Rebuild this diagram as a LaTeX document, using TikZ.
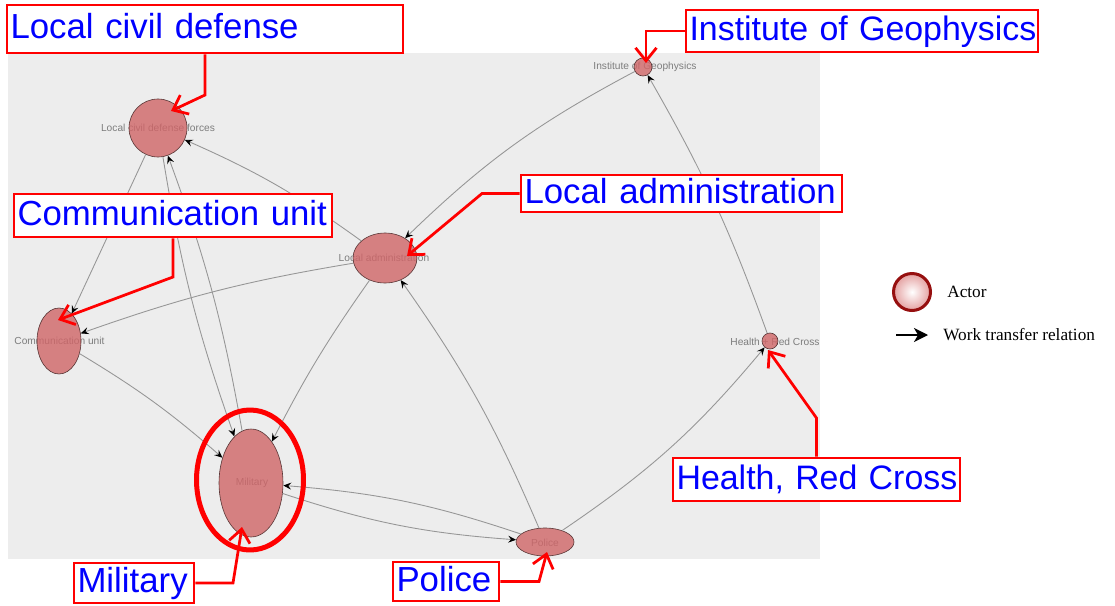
\documentclass[tikz,border=0pt]{standalone}
\usepackage{fontspec}
\setmainfont{Liberation Sans}
\newfontfamily\legendserif{Liberation Serif}
\usetikzlibrary{shapes.geometric,arrows.meta}
\definecolor{bggray}{RGB}{237,237,237}
\definecolor{nodefill}{RGB}{208,101,103}
\definecolor{nodeline}{RGB}{90,55,55}
\definecolor{edgegray}{RGB}{150,150,150}
\definecolor{labgray}{RGB}{125,125,125}
\definecolor{cred}{RGB}{255,0,0}
\definecolor{cblue}{RGB}{0,0,255}
\definecolor{ringred}{RGB}{150,15,15}
\definecolor{actorpink}{RGB}{228,160,160}
\newcommand\calloutfont{\fontsize{19.8}{23}\selectfont}
\newcommand\calloutfontnarrow{\fontsize{19.3}{23}\selectfont}
\newcommand\actorlabelfont{\fontsize{5.8}{7}\selectfont}
\newcommand\legendtextfont{\legendserif\fontsize{9.8}{12}\selectfont}
\begin{document}
\begin{tikzpicture}[x=0.02cm,y=0.02cm,
  actor/.style={ellipse, draw=nodeline, line width=0.35pt, fill=nodefill, fill opacity=0.8, text opacity=1, inner sep=0pt},
  actorlabel/.style={text=labgray, font=\actorlabelfont, inner sep=0pt},
  rel/.style={draw=edgegray, line width=0.5pt, -{Stealth[black,length=0.16cm,width=0.14cm,inset=0.06cm]}},
  cbox/.style={draw=cred, line width=0.055cm, fill=white, text=cblue, font=\calloutfont, inner ysep=0pt, inner xsep=0.07cm, align=left, text height=14.85pt, text depth=3.96pt},
  callout/.style={draw=cred, line width=0.055cm, -{Straight Barb[length=0.26cm,width=0.42cm]}},
]
\useasboundingbox (0,0) rectangle (1115,-605);
\fill[bggray] (8,-53) rectangle (820,-559);

% actor labels (drawn below the actors)
\node[actorlabel] (llcd) at (158,-128) {Local civil defense forces};
\node[actorlabel] (lla) at (384,-258) {Local administration};
\node[actorlabel] (lig) at (645,-67) {Institute of Geophysics};
\node[actorlabel] (lcu) at (59.5,-341) {Communication unit};
\node[actorlabel] (lm) at (252,-483) {Military};
\node[actorlabel] (lp) at (545,-543) {Police};
\node[actorlabel] (lh) at (775,-342) {Health + Red Cross};

% actors
\node[actor, minimum width=1.16cm, minimum height=1.16cm] (lcd) at (158,-128) {};
\node[actor, minimum width=1.28cm, minimum height=1.00cm] (la) at (385,-258) {};
\node[actor, minimum width=0.36cm, minimum height=0.36cm] (ig) at (643,-67) {};
\node[actor, minimum width=0.88cm, minimum height=1.32cm] (cu) at (59,-341) {};
\node[actor, minimum width=1.28cm, minimum height=2.16cm] (m) at (251,-483) {};
\node[actor, minimum width=1.16cm, minimum height=0.56cm] (p) at (545,-542) {};
\node[actor, minimum width=0.32cm, minimum height=0.32cm] (h) at (770,-341) {};

% work transfer relations
\draw[rel] (lcd) to (cu);
\draw[rel] (la) to[bend right=6] (lcd);
\draw[rel] (la) to[bend right=5] (cu);
\draw[rel] (la) to[bend right=4] (m);
\draw[rel] (ig) to[bend right=8] (la);
\draw[rel] (h) to[bend right=5] (ig);
\draw[rel] (p) to[bend right=8] (h);
\draw[rel] (p) to[bend right=6] (la);
\draw[rel] (p) to[bend right=7] (m);
\draw[rel] (m) to[bend right=7] (p);
\draw[rel] (lcd) to[bend right=5] (m);
\draw[rel] (m) to[bend right=5] (lcd);
\draw[rel] (cu) to[bend left=5] (m);

% callout boxes
\node[cbox, minimum width=7.92cm, text width=7.78cm, minimum height=0.96cm] (blcd) at (205,-29) {\mbox{Local civil defense}};
\node[cbox, font=\calloutfontnarrow, minimum width=7.04cm, text width=6.90cm, minimum height=0.84cm] (big) at (862,-31) {\mbox{Institute of Geophysics}};
\node[cbox, minimum width=6.42cm, text width=6.28cm, minimum height=0.74cm] (bla) at (681.5,-193.5) {\mbox{Local administration}};
\node[cbox, minimum width=6.36cm, text width=6.22cm, minimum height=0.86cm] (bcu) at (173,-215.5) {\mbox{Communication unit}};
\node[cbox, minimum width=2.40cm, text width=2.26cm, minimum height=0.80cm] (bm) at (134,-583) {\mbox{Military}};
\node[cbox, minimum width=2.12cm, text width=1.98cm, minimum height=0.78cm] (bp) at (446,-581.5) {\mbox{Police}};
\node[cbox, font=\calloutfontnarrow, minimum width=5.74cm, text width=5.60cm, minimum height=0.86cm] (bh) at (816.5,-479.5) {\mbox{Health, Red Cross}};

% highlight ring around Military
\node[ellipse, draw=cred, line width=0.1cm, minimum width=2.14cm, minimum height=2.8cm, inner sep=0pt] (mring) at (250,-480) {};

% callout arrows
\coordinate (klcd) at (205,-95);
\coordinate (tlcd) at (171,-111);
\coordinate (tig) at (646,-63);
\coordinate (kla) at (482,-193.5);
\coordinate (tla) at (407,-256);
\coordinate (kcu) at (173,-277);
\coordinate (tcu) at (58,-320);
\coordinate (km) at (233,-583);
\coordinate (tm) at (242,-527);
\coordinate (kp) at (539,-581.5);
\coordinate (tp) at (547,-552);
\coordinate (kh) at (816.5,-418);
\coordinate (th) at (768,-350);
\draw[callout] (blcd.south) -- (klcd) -- (tlcd);
\draw[callout] (big.west) -| (tig);
\draw[callout] (bla.west) -- (kla) -- (tla);
\draw[callout] (bcu.south) -- (kcu) -- (tcu);
\draw[callout] (bm.east) -- (km) -- (tm);
\draw[callout] (bp.east) -- (kp) -- (tp);
\draw[callout] (bh.north) -- (kh) -- (th);

% legend
\node[circle, draw=ringred, line width=0.06cm, minimum size=0.74cm, inner sep=0pt, inner color=white, outer color=actorpink] (legactor) at (912,-292) {};
\node[anchor=west, font=\legendtextfont, inner sep=0pt] (legactortxt) at (947,-292) {Actor};
\coordinate (legarra) at (896,-335);
\coordinate (legarrb) at (928,-335);
\draw[black, line width=0.04cm, -{Stealth[length=0.28cm,width=0.28cm,inset=0.08cm]}] (legarra) -- (legarrb);
\node[anchor=west, font=\legendtextfont, inner sep=0pt] (legreltxt) at (943,-335) {Work transfer relation};
\end{tikzpicture}
\end{document}
